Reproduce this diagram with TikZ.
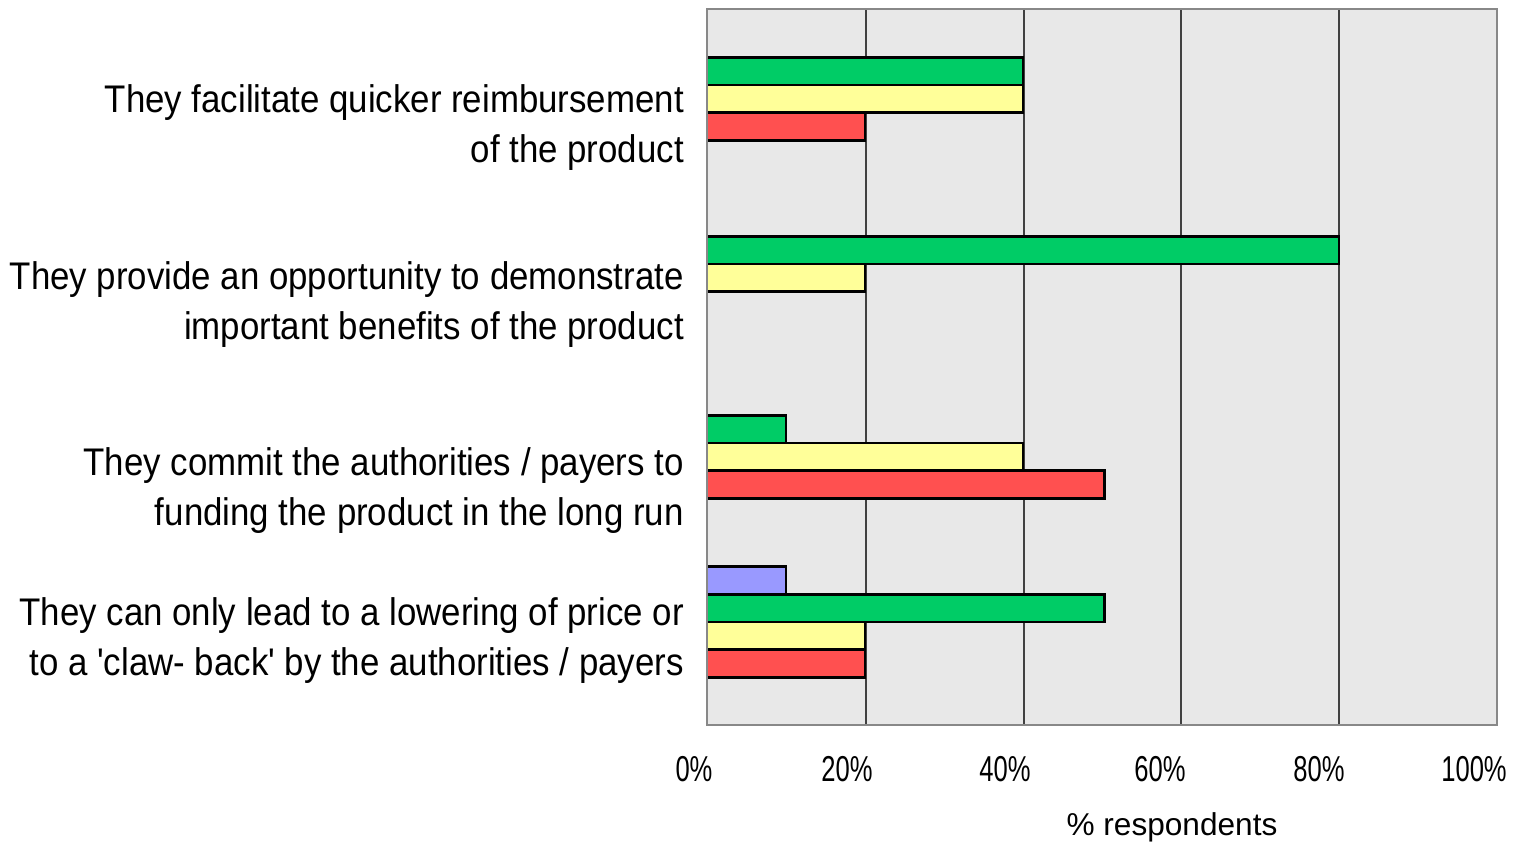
\documentclass[tikz,border=0pt]{standalone}
\usepackage{fontspec}
\setmainfont{Liberation Sans}
\newfontfamily\narrowfont{Liberation Sans}[FakeStretch=0.905]
\newfontfamily\ticksfont{Liberation Sans}[FakeStretch=0.71]
\definecolor{plotbg}{HTML}{E8E8E8}
\definecolor{frame}{HTML}{888888}
\definecolor{cgreen}{HTML}{00CC66}
\definecolor{cyellow}{HTML}{FFFF99}
\definecolor{cred}{HTML}{FF5050}
\definecolor{cblue}{HTML}{9999FF}
\tikzset{
  bar/.style={draw=black, line width=2.7pt},
  gridline/.style={draw=black!75, line width=1.2pt},
  catlabel/.style={anchor=east, align=right, inner sep=0pt, font=\narrowfont\fontsize{38.5}{50}\selectfont},
  ticklabel/.style={anchor=base, inner sep=0pt, font=\ticksfont\fontsize{36}{40}\selectfont},
  axistitle/.style={anchor=base, inner sep=0pt, font=\fontsize{31.6}{36}\selectfont}
}
\newcommand{\chartbar}[4]{% group, slot, value, colour
  \filldraw[bar, fill=#4] (707, {29.5+179*#1+27.7*#2}) rectangle ({707+7.9*#3}, {29.5+179*#1+27.7*(#2+1)});
}
\begin{document}
\begin{tikzpicture}[x=1pt, y=-1pt]
\useasboundingbox (0,0) rectangle (1515,842);
% plot area
\fill[plotbg] (707,9) rectangle (1497,725);
\foreach \g in {866,1024,1181,1339} {\draw[gridline] (\g,9) -- (\g,725);}
% bars
\chartbar{0}{1}{40}{cgreen}
\chartbar{0}{2}{40}{cyellow}
\chartbar{0}{3}{20}{cred}
\chartbar{1}{1}{80}{cgreen}
\chartbar{1}{2}{20}{cyellow}
\chartbar{2}{1}{10}{cgreen}
\chartbar{2}{2}{40}{cyellow}
\chartbar{2}{3}{50.3}{cred}
\chartbar{3}{0}{10}{cblue}
\chartbar{3}{1}{50.3}{cgreen}
\chartbar{3}{2}{20}{cyellow}
\chartbar{3}{3}{20}{cred}
\draw[frame, line width=2.7pt] (707,9) rectangle (1497,725);
% category labels
\node[catlabel] (c1) at (684,128) {They facilitate quicker reimbursement\\of the product};
\node[catlabel] (c2) at (684,305) {They provide an opportunity to demonstrate\\important benefits of the product};
\node[catlabel] (c3) at (684,491) {They commit the authorities / payers to\\funding the product in the long run};
\node[catlabel] (c4) at (684,641) {They can only lead to a lowering of price or\\to a 'claw- back' by the authorities / payers};
% tick labels
\node[ticklabel] (t0) at (694,781) {0\%};
\node[ticklabel] (t20) at (847,781) {20\%};
\node[ticklabel] (t40) at (1005,781) {40\%};
\node[ticklabel] (t60) at (1160,781) {60\%};
\node[ticklabel] (t80) at (1319,781) {80\%};
\node[ticklabel] (t100) at (1474,781) {100\%};
\node[axistitle] (xt) at (1172,835) {\% respondents};
\end{tikzpicture}
\end{document}
